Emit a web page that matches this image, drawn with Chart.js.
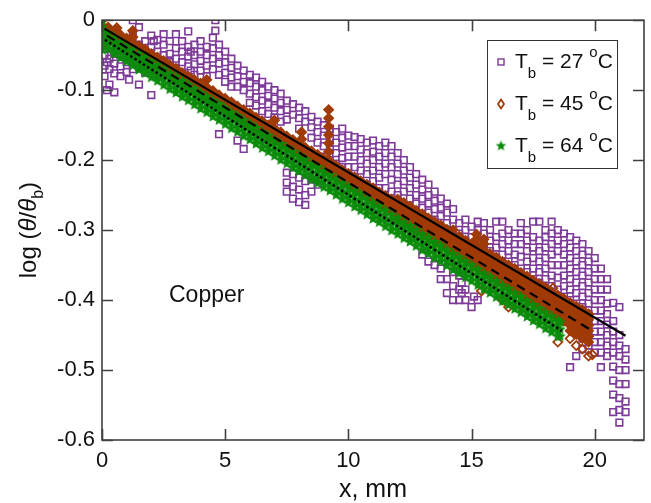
<!DOCTYPE html>
<html>
<head>
<meta charset="utf-8">
<script src="https://cdn.jsdelivr.net/npm/chart.js@4.4.0/dist/chart.umd.min.js"></script>
<style>
  html, body { margin: 0; padding: 0; background: #fff; }
</style>
</head>
<body>
<canvas id="chart" width="651" height="503"></canvas>
<script>
// Tick values
const xTicks = [0, 5, 10, 15, 20];
const yTicks = [0, -0.1, -0.2, -0.3, -0.4, -0.5, -0.6];
const seriesTemps = ['27', '45', '64'];

// Measured points, one row per x position: [x, y1, y2, ...]
const purpleCols = [
  [0.1, -0.035, -0.05, -0.065, -0.08],
  [0.2, -0.06, -0.1],
  [0.3, -0.04, -0.055, -0.07, -0.092],
  [0.5, -0.03, -0.048, -0.062, -0.076, -0.103],
  [0.75, -0.035, -0.05, -0.066, -0.08],
  [1.0, -0.028, -0.045, -0.06, -0.074],
  [1.1, -0.052, -0.085],
  [1.25, 0.0, -0.022, -0.04, -0.058, -0.07],
  [1.5, -0.01, -0.035, -0.05, -0.066, -0.092],
  [1.75, -0.03, -0.045, -0.06, -0.075],
  [2.0, -0.022, -0.038, -0.055, -0.07, -0.107],
  [2.1, -0.03, -0.062],
  [2.25, -0.028, -0.045, -0.062, -0.078],
  [2.5, -0.02, -0.035, -0.05, -0.065],
  [2.75, -0.03, -0.048, -0.06, -0.072],
  [3.0, -0.02, -0.04, -0.055, -0.068],
  [3.25, -0.03, -0.045, -0.06, -0.075],
  [3.5, -0.016, -0.038, -0.052, -0.066],
  [3.6, -0.045, -0.072],
  [3.75, -0.035, -0.05, -0.063, -0.078],
  [4.0, -0.03, -0.045, -0.058, -0.072],
  [4.25, -0.038, -0.05, -0.065, -0.08],
  [4.5, -0.025, -0.04, -0.055, -0.07],
  [4.6, 0.0, -0.015],
  [4.75, -0.035, -0.05, -0.062, -0.078, -0.163],
  [5.0, -0.045, -0.06, -0.075, -0.088],
  [5.25, -0.055, -0.068, -0.082, -0.095],
  [5.5, -0.065, -0.08, -0.095, -0.172],
  [5.75, -0.072, -0.088, -0.1, -0.184],
  [6.0, -0.078, -0.09, -0.105, -0.118],
  [6.25, -0.082, -0.095, -0.11, -0.122],
  [6.5, -0.088, -0.1, -0.115, -0.13],
  [6.75, -0.095, -0.108, -0.12, -0.134],
  [7.0, -0.1, -0.112, -0.125, -0.139],
  [7.25, -0.105, -0.118, -0.13, -0.145],
  [7.5, -0.115, -0.128, -0.142, -0.218, -0.232, -0.245],
  [7.75, -0.12, -0.135, -0.22, -0.238, -0.255],
  [8.0, -0.125, -0.14, -0.155, -0.225, -0.242, -0.26],
  [8.25, -0.13, -0.145, -0.23, -0.25, -0.264],
  [8.5, -0.138, -0.153, -0.168, -0.228, -0.245],
  [8.75, -0.145, -0.16, -0.175, -0.235],
  [9.0, -0.15, -0.165, -0.18, -0.195],
  [9.25, -0.155, -0.17, -0.185, -0.2],
  [9.5, -0.16, -0.175, -0.19, -0.205],
  [9.75, -0.155, -0.168, -0.182, -0.197, -0.21],
  [10.0, -0.165, -0.18, -0.195, -0.21],
  [10.25, -0.167, -0.18, -0.195, -0.21, -0.225],
  [10.5, -0.17, -0.185, -0.2, -0.215],
  [10.75, -0.175, -0.19, -0.205, -0.22, -0.235],
  [11.0, -0.172, -0.188, -0.2, -0.215, -0.23],
  [11.25, -0.18, -0.195, -0.21, -0.225, -0.24],
  [11.5, -0.175, -0.19, -0.205, -0.22, -0.24],
  [11.75, -0.18, -0.195, -0.21, -0.228, -0.245],
  [12.0, -0.19, -0.205, -0.22, -0.235, -0.25],
  [12.25, -0.2, -0.215, -0.23, -0.245],
  [12.5, -0.21, -0.225, -0.24, -0.255],
  [12.75, -0.22, -0.235, -0.25, -0.262],
  [13.0, -0.228, -0.242, -0.255, -0.268, -0.335],
  [13.25, -0.235, -0.25, -0.262, -0.275, -0.345],
  [13.5, -0.245, -0.258, -0.27, -0.285, -0.35],
  [13.75, -0.255, -0.268, -0.28, -0.355, -0.37],
  [14.0, -0.262, -0.275, -0.29, -0.37, -0.39],
  [14.25, -0.27, -0.285, -0.3, -0.36, -0.38, -0.4],
  [14.5, -0.29, -0.305, -0.365, -0.385, -0.4],
  [14.6, -0.375, -0.39],
  [14.75, -0.285, -0.3, -0.315, -0.385, -0.4],
  [15.0, -0.295, -0.31, -0.325, -0.41],
  [15.1, -0.33, -0.395],
  [15.25, -0.288, -0.3, -0.315, -0.33, -0.345, -0.4],
  [15.5, -0.29, -0.305, -0.32, -0.335],
  [15.75, -0.3, -0.315, -0.33, -0.345],
  [16.0, -0.288, -0.31, -0.325, -0.34, -0.355],
  [16.25, -0.288, -0.305, -0.32, -0.335, -0.35],
  [16.5, -0.3, -0.315, -0.33, -0.345, -0.36],
  [16.75, -0.305, -0.32, -0.335, -0.35, -0.365],
  [17.0, -0.29, -0.305, -0.32, -0.338, -0.355, -0.37],
  [17.25, -0.3, -0.315, -0.33, -0.345, -0.36],
  [17.5, -0.288, -0.31, -0.325, -0.34, -0.355, -0.37],
  [17.75, -0.288, -0.315, -0.33, -0.345, -0.36, -0.375],
  [18.0, -0.3, -0.31, -0.325, -0.34, -0.355, -0.37, -0.385],
  [18.25, -0.288, -0.305, -0.32, -0.335, -0.35, -0.365, -0.38, -0.395],
  [18.5, -0.3, -0.315, -0.33, -0.35, -0.368, -0.385, -0.4],
  [18.75, -0.305, -0.32, -0.335, -0.35, -0.365, -0.38, -0.395, -0.41],
  [19.0, -0.31, -0.325, -0.34, -0.355, -0.37, -0.385, -0.4, -0.415, -0.43, -0.496],
  [19.25, -0.315, -0.33, -0.345, -0.36, -0.375, -0.39, -0.405, -0.42, -0.44, -0.48],
  [19.5, -0.32, -0.335, -0.35, -0.365, -0.38, -0.395, -0.41, -0.425, -0.44, -0.455, -0.47],
  [19.75, -0.33, -0.345, -0.36, -0.375, -0.39, -0.405, -0.42, -0.435, -0.45, -0.465],
  [20.0, -0.34, -0.355, -0.37, -0.385, -0.4, -0.415, -0.43, -0.445, -0.46, -0.475],
  [20.25, -0.355, -0.37, -0.385, -0.4, -0.415, -0.43, -0.445, -0.46, -0.475, -0.496],
  [20.5, -0.37, -0.385, -0.405, -0.42, -0.435, -0.45, -0.465, -0.48],
  [20.75, -0.404, -0.43, -0.445, -0.46, -0.475, -0.495, -0.515, -0.535, -0.56],
  [21.0, -0.41, -0.45, -0.465, -0.48, -0.5, -0.52, -0.54, -0.557, -0.575],
  [21.25, -0.47, -0.485, -0.5, -0.52, -0.545, -0.56]
];

// dense part of the 45 C set
const brownCols = [
  [0.0, 0.0, -0.008, -0.018, -0.028, -0.036],
  [0.25, -0.01, -0.018, -0.027],
  [0.5, -0.015, -0.024, -0.032],
  [0.6, -0.011],
  [0.75, -0.021, -0.029, -0.037],
  [1.0, -0.026, -0.034, -0.042],
  [1.25, -0.015, -0.024, -0.032, -0.04, -0.048],
  [1.5, -0.037, -0.045, -0.053],
  [1.75, -0.042, -0.05, -0.058],
  [2.0, -0.048, -0.056, -0.064],
  [2.25, -0.053, -0.061, -0.069],
  [2.5, -0.058, -0.066, -0.074],
  [2.75, -0.064, -0.072, -0.08],
  [3.0, -0.069, -0.077, -0.085],
  [3.25, -0.075, -0.083, -0.091],
  [3.5, -0.08, -0.088, -0.096],
  [3.75, -0.085, -0.093, -0.101],
  [4.0, -0.09, -0.099, -0.107],
  [4.25, -0.085, -0.096, -0.104, -0.112],
  [4.5, -0.101, -0.109, -0.117],
  [4.75, -0.107, -0.115, -0.123],
  [5.0, -0.112, -0.12, -0.128],
  [5.25, -0.117, -0.125, -0.133],
  [5.5, -0.123, -0.131, -0.139],
  [5.75, -0.128, -0.136, -0.144],
  [6.0, -0.133, -0.141, -0.149],
  [6.25, -0.139, -0.147, -0.155],
  [6.5, -0.144, -0.152, -0.16],
  [6.75, -0.15, -0.158, -0.166],
  [7.0, -0.143, -0.155, -0.163, -0.171],
  [7.25, -0.16, -0.168, -0.176],
  [7.5, -0.166, -0.174, -0.182],
  [7.75, -0.171, -0.179, -0.187],
  [8.0, -0.176, -0.184, -0.192],
  [8.1, -0.16, -0.17],
  [8.25, -0.182, -0.19, -0.198],
  [8.5, -0.187, -0.195, -0.203],
  [8.75, -0.192, -0.2, -0.208],
  [9.0, -0.198, -0.206, -0.214],
  [9.2, -0.128, -0.14, -0.152, -0.164, -0.176, -0.188, -0.2],
  [9.25, -0.203, -0.211, -0.219],
  [9.5, -0.208, -0.216, -0.224],
  [9.75, -0.214, -0.222, -0.23],
  [10.0, -0.219, -0.227, -0.235],
  [10.25, -0.224, -0.232, -0.24],
  [10.5, -0.23, -0.238, -0.246],
  [10.75, -0.235, -0.243, -0.251],
  [11.0, -0.24, -0.248, -0.256],
  [11.25, -0.246, -0.254, -0.262],
  [11.5, -0.251, -0.259, -0.267],
  [11.75, -0.256, -0.264, -0.272],
  [12.0, -0.256, -0.263, -0.27, -0.277, -0.284],
  [12.25, -0.261, -0.268, -0.275, -0.282, -0.289],
  [12.5, -0.266, -0.273, -0.28, -0.287, -0.294],
  [12.75, -0.272, -0.279, -0.286, -0.293, -0.3],
  [13.0, -0.277, -0.284, -0.291, -0.298, -0.305],
  [13.25, -0.283, -0.29, -0.297, -0.304, -0.311],
  [13.5, -0.288, -0.295, -0.302, -0.309, -0.316],
  [13.75, -0.293, -0.3, -0.307, -0.314, -0.321],
  [14.0, -0.299, -0.306, -0.313, -0.32, -0.327],
  [14.25, -0.3, -0.311, -0.318, -0.325, -0.332],
  [14.5, -0.309, -0.316, -0.323, -0.33, -0.337],
  [14.75, -0.315, -0.322, -0.329, -0.336, -0.343],
  [15.0, -0.32, -0.327, -0.334, -0.341, -0.348],
  [15.2, -0.306, -0.313],
  [15.25, -0.323, -0.331, -0.339, -0.347, -0.355],
  [15.5, -0.313, -0.32, -0.329, -0.337, -0.345, -0.353, -0.361],
  [15.75, -0.334, -0.342, -0.35, -0.358, -0.366],
  [16.0, -0.339, -0.347, -0.355, -0.363, -0.371],
  [16.25, -0.345, -0.353, -0.361, -0.369, -0.377],
  [16.5, -0.35, -0.358, -0.366, -0.374, -0.382],
  [16.75, -0.355, -0.363, -0.371, -0.379, -0.387],
  [17.0, -0.361, -0.369, -0.377, -0.385, -0.393],
  [17.25, -0.366, -0.374, -0.382, -0.39, -0.398],
  [17.5, -0.372, -0.38, -0.388, -0.396, -0.404],
  [17.75, -0.377, -0.385, -0.393, -0.401, -0.409],
  [18.0, -0.382, -0.39, -0.398, -0.406, -0.414],
  [18.25, -0.388, -0.396, -0.404, -0.412, -0.42],
  [18.5, -0.393, -0.401, -0.409, -0.417, -0.425],
  [18.75, -0.398, -0.406, -0.414, -0.422, -0.43],
  [19.0, -0.404, -0.412, -0.42, -0.428, -0.436, -0.444],
  [19.25, -0.409, -0.417, -0.425, -0.433, -0.441, -0.449],
  [19.5, -0.414, -0.422, -0.431, -0.439, -0.447, -0.455],
  [19.75, -0.42, -0.428, -0.436, -0.444, -0.452, -0.46]
];

// isolated 45 C points (drawn open)
const brownStray = [
  [15.4, -0.387], [16.25, -0.4], [16.5, -0.41], [18.3, -0.383], [18.5, -0.46],
  [19.0, -0.455], [19.25, -0.465], [19.5, -0.47], [19.75, -0.48], [19.9, -0.478]
];

const greenCols = [
  [0.0, 0.0, -0.01, -0.018, -0.026, -0.034, -0.042],
  [0.25, -0.019, -0.027, -0.035, -0.042],
  [0.5, -0.025, -0.033, -0.041, -0.048],
  [0.75, -0.031, -0.038, -0.046, -0.054],
  [1.0, -0.036, -0.044, -0.052, -0.059],
  [1.25, -0.042, -0.049, -0.057, -0.065],
  [1.5, -0.048, -0.055, -0.063, -0.071],
  [1.75, -0.053, -0.061, -0.069, -0.076],
  [2.0, -0.059, -0.066, -0.074, -0.082],
  [2.25, -0.064, -0.072, -0.08, -0.087],
  [2.5, -0.07, -0.077, -0.085, -0.093],
  [2.75, -0.076, -0.083, -0.091, -0.099],
  [3.0, -0.081, -0.089, -0.097, -0.104],
  [3.25, -0.087, -0.094, -0.102, -0.11],
  [3.5, -0.092, -0.1, -0.108, -0.115],
  [3.75, -0.098, -0.106, -0.114, -0.121],
  [4.0, -0.104, -0.111, -0.119, -0.127],
  [4.25, -0.109, -0.117, -0.125, -0.132],
  [4.5, -0.115, -0.122, -0.13, -0.138],
  [4.75, -0.12, -0.128, -0.136, -0.143],
  [5.0, -0.126, -0.134, -0.142, -0.149],
  [5.25, -0.132, -0.139, -0.147, -0.155],
  [5.5, -0.137, -0.145, -0.153, -0.16],
  [5.75, -0.143, -0.15, -0.158, -0.166],
  [6.0, -0.148, -0.156, -0.164, -0.171],
  [6.25, -0.154, -0.162, -0.17, -0.177],
  [6.5, -0.16, -0.167, -0.175, -0.183],
  [6.75, -0.165, -0.173, -0.181, -0.188],
  [7.0, -0.171, -0.178, -0.186, -0.194],
  [7.25, -0.177, -0.184, -0.192, -0.2],
  [7.5, -0.182, -0.19, -0.198, -0.205],
  [7.75, -0.188, -0.195, -0.203, -0.211],
  [8.0, -0.193, -0.201, -0.209, -0.216],
  [8.25, -0.199, -0.206, -0.214, -0.222],
  [8.5, -0.205, -0.212, -0.22, -0.228],
  [8.75, -0.21, -0.218, -0.226, -0.233],
  [9.0, -0.216, -0.223, -0.231, -0.239],
  [9.25, -0.221, -0.229, -0.237, -0.244],
  [9.5, -0.227, -0.235, -0.243, -0.25],
  [9.75, -0.233, -0.24, -0.248, -0.256],
  [10.0, -0.238, -0.246, -0.254, -0.261],
  [10.25, -0.244, -0.251, -0.259, -0.267],
  [10.5, -0.249, -0.257, -0.265, -0.272],
  [10.75, -0.255, -0.263, -0.271, -0.278],
  [11.0, -0.261, -0.268, -0.276, -0.284],
  [11.25, -0.266, -0.274, -0.282, -0.289],
  [11.5, -0.272, -0.279, -0.287, -0.295],
  [11.75, -0.278, -0.285, -0.293, -0.301],
  [12.0, -0.283, -0.291, -0.299, -0.306],
  [12.25, -0.289, -0.296, -0.304, -0.312],
  [12.5, -0.294, -0.302, -0.31, -0.317],
  [12.75, -0.3, -0.307, -0.315, -0.323],
  [13.0, -0.306, -0.313, -0.321, -0.329],
  [13.25, -0.311, -0.319, -0.327, -0.334],
  [13.5, -0.317, -0.324, -0.332, -0.34],
  [13.75, -0.322, -0.33, -0.338, -0.345],
  [14.0, -0.328, -0.336, -0.344, -0.351],
  [14.25, -0.334, -0.341, -0.349, -0.357],
  [14.5, -0.339, -0.347, -0.355, -0.362],
  [14.75, -0.345, -0.352, -0.36, -0.368],
  [15.0, -0.35, -0.358, -0.366, -0.373],
  [15.25, -0.356, -0.364, -0.372, -0.379],
  [15.5, -0.362, -0.369, -0.377, -0.385],
  [15.75, -0.367, -0.375, -0.383, -0.39],
  [16.0, -0.373, -0.38, -0.388, -0.396],
  [16.25, -0.379, -0.386, -0.394, -0.402],
  [16.5, -0.384, -0.392, -0.4, -0.407],
  [16.75, -0.39, -0.397, -0.405, -0.413],
  [17.0, -0.395, -0.403, -0.411, -0.418],
  [17.25, -0.401, -0.408, -0.416, -0.424],
  [17.5, -0.407, -0.414, -0.422, -0.43],
  [17.75, -0.412, -0.42, -0.428, -0.435],
  [18.0, -0.418, -0.425, -0.433, -0.441],
  [18.25, -0.423, -0.431, -0.439, -0.446],
  [18.5, -0.429, -0.436, -0.444, -0.452],
  [18.6, -0.432, -0.442, -0.452]
];

// Linear fits (end points)
const fitSolid = [[0.1, -0.012], [21.25, -0.451]];
const fitDashed = [[0.2, -0.022], [19.76, -0.441]];
const fitDotted = [[0.12, -0.028], [18.66, -0.444]];

const PURPLE = '#7e3a98';
const BROWN = '#a03a06';
const GREEN = '#0a8c0a';
const FONT = "'Liberation Sans', Arial, sans-serif";

function toPoints(cols) {
  const pts = [];
  cols.forEach(c => {
    for (let i = 1; i < c.length; i++) pts.push({ x: c[0], y: c[i] });
  });
  return pts;
}
const pairs = arr => arr.map(p => ({ x: p[0], y: p[1] }));

// filled five-point star used as point marker
function makeStar(color, r) {
  const size = Math.ceil(r * 2) + 2;
  const cv = document.createElement('canvas');
  cv.width = size; cv.height = size;
  const g = cv.getContext('2d');
  g.fillStyle = color;
  g.beginPath();
  for (let i = 0; i < 10; i++) {
    const rad = i % 2 ? r * 0.45 : r;
    const a = -Math.PI / 2 + i * Math.PI / 5;
    g.lineTo(size / 2 + rad * Math.cos(a), size / 2 + rad * Math.sin(a));
  }
  g.closePath();
  g.fill();
  return cv;
}
const starImg = makeStar(GREEN, 6);
const legendStar = makeStar(GREEN, 5.5);

// draw a run of text pieces with sub/superscripts
function drawRich(ctx, parts, x, y, align) {
  let total = 0;
  parts.forEach(p => {
    ctx.font = (p.italic ? 'italic ' : '') + p.size + 'px ' + FONT;
    p.w = ctx.measureText(p.t).width;
    total += p.w;
  });
  let cx = align === 'center' ? x - total / 2 : x;
  parts.forEach(p => {
    ctx.font = (p.italic ? 'italic ' : '') + p.size + 'px ' + FONT;
    ctx.fillText(p.t, cx, y + (p.dy || 0));
    cx += p.w;
  });
}

const decorPlugin = {
  id: 'decor',
  afterDatasetsDraw(chart) {
    const { ctx, chartArea: a, scales: { x, y } } = chart;
    ctx.save();
    // frame + inward ticks
    ctx.strokeStyle = '#404040';
    ctx.lineWidth = 1.6;
    ctx.strokeRect(a.left, a.top, a.right - a.left, a.bottom - a.top);
    const tl = 11;
    ctx.beginPath();
    xTicks.forEach(v => {
      const px = Math.round(x.getPixelForValue(v)) + 0.5;
      ctx.moveTo(px, a.bottom); ctx.lineTo(px, a.bottom - tl);
      ctx.moveTo(px, a.top); ctx.lineTo(px, a.top + tl);
    });
    yTicks.forEach(v => {
      const py = Math.round(y.getPixelForValue(v)) + 0.5;
      ctx.moveTo(a.left, py); ctx.lineTo(a.left + tl, py);
      ctx.moveTo(a.right, py); ctx.lineTo(a.right - tl, py);
    });
    ctx.stroke();
    ctx.restore();
  },
  afterDraw(chart) {
    const { ctx, chartArea: a } = chart;
    ctx.save();
    ctx.textBaseline = 'alphabetic';

    // legend
    const lx = 487.5, ly = 40.5, lw = 130, lh = 128;
    ctx.fillStyle = '#fff';
    ctx.fillRect(lx, ly, lw, lh);
    ctx.strokeStyle = '#333';
    ctx.lineWidth = 1;
    ctx.strokeRect(lx, ly, lw, lh);
    const rows = [62, 104, 146];
    // square
    ctx.strokeStyle = PURPLE; ctx.lineWidth = 1.4;
    ctx.strokeRect(498, rows[0] - 3, 6, 6);
    // diamond
    ctx.strokeStyle = BROWN; ctx.lineWidth = 1.8;
    ctx.beginPath();
    ctx.moveTo(501, rows[1] - 4.5); ctx.lineTo(504, rows[1]);
    ctx.lineTo(501, rows[1] + 4.5); ctx.lineTo(498, rows[1]);
    ctx.closePath(); ctx.stroke();
    // star
    ctx.drawImage(legendStar, 501 - legendStar.width / 2, rows[2] - legendStar.height / 2);

    ctx.fillStyle = '#111';
    seriesTemps.forEach((t, i) => {
      const base = rows[i] + 6;
      drawRich(ctx, [
        { t: 'T', size: 21 },
        { t: 'b', size: 15, dy: 10 },
        { t: ' = ' + t + ' ', size: 21 },
        { t: 'o', size: 15, dy: -11 },
        { t: 'C', size: 21 }
      ], 515, base, 'left');
    });

    // annotation
    ctx.font = '23px ' + FONT;
    ctx.fillText('Copper', 169, 302);

    // x axis title
    drawRich(ctx, [{ t: 'x, mm', size: 25 }], (a.left + a.right) / 2, 497, 'center');

    // y axis title
    ctx.save();
    ctx.translate(36, (a.top + a.bottom) / 2);
    ctx.rotate(-Math.PI / 2);
    drawRich(ctx, [
      { t: 'log (', size: 24 },
      { t: '\u03B8', size: 24, italic: true },
      { t: '/', size: 24 },
      { t: '\u03B8', size: 24, italic: true },
      { t: 'b', size: 16, dy: 7 },
      { t: ')', size: 24 }
    ], 0, 0, 'center');
    ctx.restore();

    ctx.restore();
  }
};

Chart.defaults.font.family = FONT;

new Chart(document.getElementById('chart'), {
  type: 'scatter',
  data: {
    datasets: [
      {
        data: pairs(fitSolid), showLine: true, borderColor: '#000', borderWidth: 2.2,
        pointRadius: 0, order: 0
      },
      {
        data: pairs(fitDashed), showLine: true, borderColor: '#000', borderWidth: 2.2,
        borderDash: [9, 6], pointRadius: 0, order: 0
      },
      {
        data: pairs(fitDotted), showLine: true, borderColor: '#000', borderWidth: 2.5,
        borderDash: [2.5, 2.5], pointRadius: 0, order: 0
      },
      {
        label: 'Tb = 64 oC', data: toPoints(greenCols), pointStyle: starImg,
        pointRadius: 6, order: 1
      },
      {
        label: 'Tb = 45 oC', data: toPoints(brownCols), pointStyle: 'rectRot',
        pointRadius: 4.5, borderWidth: 1.8, borderColor: BROWN,
        backgroundColor: BROWN, order: 2
      },
      {
        label: 'Tb = 45 oC stray', data: pairs(brownStray), pointStyle: 'rectRot',
        pointRadius: 4.5, borderWidth: 1.8, borderColor: BROWN,
        backgroundColor: 'rgba(0,0,0,0)', order: 2
      },
      {
        label: 'Tb = 27 oC', data: toPoints(purpleCols), pointStyle: 'rect',
        pointRadius: 4.7, borderWidth: 1.6, borderColor: PURPLE,
        backgroundColor: 'rgba(0,0,0,0)', order: 3
      }
    ]
  },
  options: {
    responsive: false,
    animation: false,
    devicePixelRatio: 1,
    layout: { padding: { left: 0, top: 17, right: 6, bottom: 0 } },
    plugins: { legend: { display: false }, tooltip: { enabled: false } },
    scales: {
      x: {
        type: 'linear', min: 0, max: 22,
        afterBuildTicks: s => { s.ticks = xTicks.map(v => ({ value: v })); },
        afterFit: s => { s.height = 63; },
        grid: { display: false, drawTicks: false },
        border: { display: false },
        ticks: { color: '#111', font: { size: 22 }, padding: 8, maxRotation: 0, autoSkip: false }
      },
      y: {
        type: 'linear', min: -0.6, max: 0,
        afterBuildTicks: s => { s.ticks = yTicks.map(v => ({ value: v })); },
        afterFit: s => { s.width = 102; },
        grid: { display: false, drawTicks: false },
        border: { display: false },
        ticks: {
          color: '#111', font: { size: 22 }, padding: 7, autoSkip: false,
          callback: v => (v === 0 ? '0' : v.toFixed(1))
        }
      }
    }
  },
  plugins: [decorPlugin]
});
</script>
</body>
</html>
